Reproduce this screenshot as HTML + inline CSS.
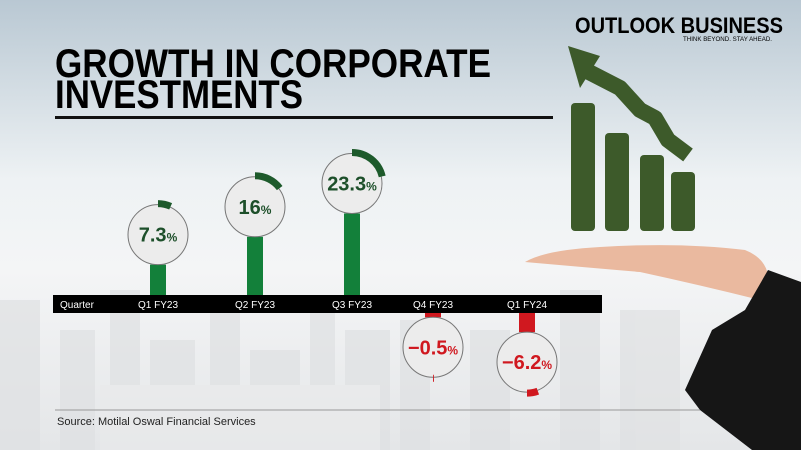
<!DOCTYPE html>
<html><head><meta charset="utf-8"><style>
html,body{margin:0;padding:0;width:801px;height:450px;overflow:hidden;background:#fff}
svg{display:block;font-family:"Liberation Sans",sans-serif}
</style></head><body>
<svg id="c" width="801" height="450" viewBox="0 0 801 450">
<defs>
<linearGradient id="bg" x1="0" y1="0" x2="0" y2="1">
<stop offset="0" stop-color="#b9c8d3"/><stop offset="0.4" stop-color="#eef2f4"/><stop offset="0.6" stop-color="#f4f5f6"/><stop offset="1" stop-color="#e4e6e8"/>
</linearGradient>
</defs>
<rect width="801" height="450" fill="url(#bg)"/>
<g id="city" fill="#dfe1e3" opacity="0.7">
<rect x="0" y="300" width="40" height="150"/><rect x="60" y="330" width="35" height="120"/><rect x="110" y="290" width="30" height="160"/>
<rect x="150" y="340" width="45" height="110"/><rect x="210" y="310" width="30" height="140"/><rect x="250" y="350" width="50" height="100"/>
<rect x="310" y="300" width="25" height="150"/><rect x="345" y="330" width="45" height="120"/><rect x="400" y="320" width="30" height="130"/>
<rect x="470" y="330" width="40" height="120"/><rect x="560" y="290" width="40" height="160"/><rect x="620" y="310" width="60" height="140"/>
<rect x="100" y="385" width="280" height="65" fill="#e9eaeb"/>
</g>
<text x="55" y="77" font-size="40" font-weight="bold" textLength="436" lengthAdjust="spacingAndGlyphs">GROWTH IN CORPORATE</text>
<text x="55" y="108" font-size="40" font-weight="bold" textLength="248" lengthAdjust="spacingAndGlyphs">INVESTMENTS</text>
<rect x="55" y="116" width="498" height="3" fill="#111"/>
<text x="575" y="33" font-size="22" font-weight="bold" textLength="208" lengthAdjust="spacingAndGlyphs">OUTLOOK BUSINESS</text>
<text x="683" y="41" font-size="6" textLength="89" lengthAdjust="spacingAndGlyphs">THINK BEYOND. STAY AHEAD.</text>
<g fill="#3d5a2a">
<rect x="571" y="103" width="24" height="128" rx="4"/><rect x="605" y="133" width="24" height="98" rx="4"/>
<rect x="640" y="155" width="24" height="76" rx="4"/><rect x="671" y="172" width="24" height="59" rx="4"/>
<polyline points="585,70 620,88 640,110 655,118 668,140 688,155" fill="none" stroke="#3d5a2a" stroke-width="16" stroke-linejoin="round"/>
<polygon points="568,46 600,56 580,88"/>
</g>
<path d="M525,262 Q545,250 600,247 Q680,242 745,250 Q765,258 768,275 L760,300 Q700,285 640,272 Q570,266 525,262Z" fill="#eab99f"/>
<polygon points="768,270 801,282 801,450 752,450 700,410 685,390 712,330 745,310" fill="#161616"/>
<line x1="55" y1="410" x2="700" y2="410" stroke="#999" stroke-width="1"/>
<text x="57" y="425" font-size="11" fill="#222">Source: Motilal Oswal Financial Services</text>
<g id="plot"></g>
</svg>
<script>
const categories=["Q1 FY23","Q2 FY23","Q3 FY23","Q4 FY23","Q1 FY24"];
const values=[7.3,16,23.3,-0.5,-6.2];
const labels=["7.3","16","23.3","-0.5","-6.2"];
const NS="http://www.w3.org/2000/svg";
const plot=document.getElementById('plot');
const xPos=i=>[158,255,352,433,527][i];
const bandTop=295,bandBot=313,R=30;
function yCenter(v){return v>=0?258-3.2*v:346-2.6*v;}
function arcDeg(v){return Math.max(Math.abs(v)*3.3,1.5);}
function mk(t,a){const e=document.createElementNS(NS,t);for(const k in a)e.setAttribute(k,a[k]);plot.appendChild(e);return e;}
const band=mk('rect',{x:53,y:bandTop,width:549,height:bandBot-bandTop,fill:'#000'});


const qt=mk('text',{x:60,y:308,'font-size':10,fill:'#fff'});qt.textContent='Quarter';


values.forEach((v,i)=>{
  const cx=xPos(i),cy=yCenter(v),pos=v>=0,col=pos?'#13803a':'#d0181f',dark=pos?'#1d5a2b':'#d0181f';
  const stem=pos?mk('rect',{x:cx-8,y:cy+R,width:16,height:bandTop-(cy+R),fill:col}):mk('rect',{x:cx-8,y:bandBot,width:16,height:Math.max(cy-R-bandBot,3),fill:col});
  
  
  const c=mk('circle',{cx:cx,cy:cy,r:R,fill:'#ececec',stroke:'#777','stroke-width':1});
  
  
  const d=arcDeg(v),rr=R+1;
  let a0,a1;
  if(pos){a0=0;a1=d;}else{a0=180-d;a1=180;}
  const p=a=>[cx+rr*Math.sin(a*Math.PI/180),cy-rr*Math.cos(a*Math.PI/180)];
  const s=p(a0),e=p(a1);
  const arc=mk('path',{d:`M${s[0]},${s[1]} A${rr},${rr} 0 0 1 ${e[0]},${e[1]}`,fill:'none',stroke:dark,'stroke-width':7});
  
  
  const t=mk('text',{x:cx,y:cy+7,'text-anchor':'middle','font-size':20,'font-weight':'bold',fill:pos?'#1d4f2a':'#d0181f'});
  t.innerHTML=labels[i].replace('-','\u2212')+'<tspan font-size="12">%</tspan>';
  
  
  const xl=mk('text',{x:cx,y:308,'text-anchor':'middle','font-size':10,fill:'#fff'});
  xl.textContent=categories[i];
  
  
});
</script>
</body></html>
